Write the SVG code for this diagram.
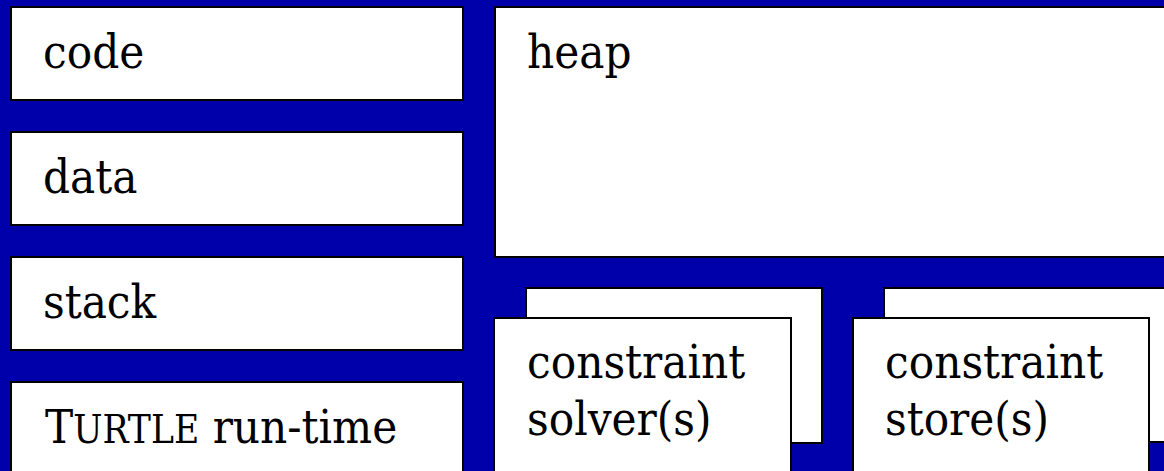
<svg xmlns="http://www.w3.org/2000/svg" width="1164" height="471" viewBox="0 0 1164 471">
  <style>
    .box { fill: #ffffff; stroke: #000000; stroke-width: 2; }
    .lbl { font-family: "DejaVu Serif Condensed", "DejaVu Serif", serif; font-size: 47px; fill: #000000; }
    .sc { font-size: 38.5px; }
  </style>
  <!-- background -->
  <rect x="0" y="0" width="1164" height="471" fill="#0000aa"/>

  <g id="code">
    <rect class="box" x="11" y="7" width="452" height="93"/>
    <text class="lbl" x="43" y="68">code</text>
  </g>
  <g id="data">
    <rect class="box" x="11" y="132" width="452" height="93"/>
    <text class="lbl" x="43" y="193">data</text>
  </g>
  <g id="stack">
    <rect class="box" x="11" y="257" width="452" height="93"/>
    <text class="lbl" x="43" y="318">stack</text>
  </g>
  <g id="runtime">
    <rect class="box" x="11" y="382" width="452" height="100"/>
    <text class="lbl" x="45" y="443">T<tspan class="sc">URTLE</tspan> run-time</text>
  </g>
  <g id="heap">
    <rect class="box" x="495" y="7" width="680" height="250"/>
    <text class="lbl" x="527" y="68">heap</text>
  </g>
  <g id="solvers">
    <rect class="box" x="526" y="288" width="296" height="155"/>
    <rect class="box" x="494" y="318" width="297" height="165"/>
    <text class="lbl" x="527" y="378">constraint</text>
    <text class="lbl" x="527" y="435">solver(s)</text>
  </g>
  <g id="stores">
    <rect class="box" x="884" y="288" width="300" height="154"/>
    <rect class="box" x="853" y="318" width="296" height="165"/>
    <text class="lbl" x="885" y="378">constraint</text>
    <text class="lbl" x="885" y="435">store(s)</text>
  </g>
  <g id="connectors"/>
</svg>
